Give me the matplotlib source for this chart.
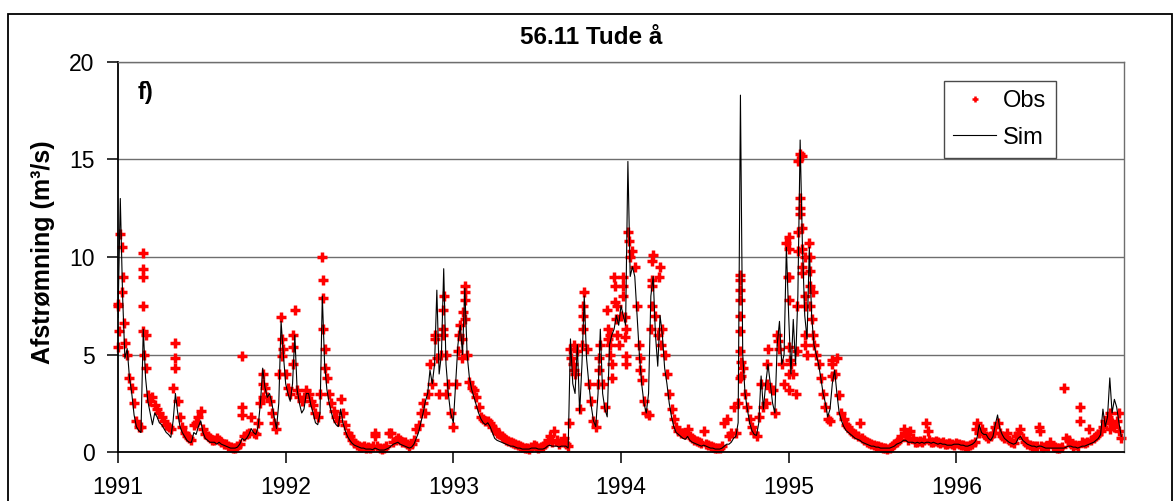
import numpy as np
import matplotlib
matplotlib.use("Agg")
import matplotlib.pyplot as plt
from matplotlib.patches import Rectangle
from matplotlib.lines import Line2D

plt.rcParams['font.family'] = ['Liberation Sans', 'DejaVu Sans']

# ---- data: 5-day samples from 1 January of each year ----
years = [1991, 1992, 1993, 1994, 1995, 1996]

sim_1991 = [6.9, 13.0, 8.0, 4.8, 5.3, 3.8, 3.0, 1.9, 1.3, 1.1, 1.0, 6.3, 3.8, 2.6, 2.0, 1.4,
            2.0, 1.8, 1.5, 1.4, 1.2, 1.0, 0.9, 0.75, 1.6, 3.0, 2.0, 1.3, 1.0, 0.8, 0.6, 0.5,
            0.5, 1.0, 0.9, 1.3, 1.6, 1.0, 0.7, 0.6, 0.5, 0.5, 0.5, 0.4, 0.5, 0.4, 0.35, 0.3,
            0.25, 0.2, 0.2, 0.2, 0.25, 0.4, 0.7, 0.6, 0.7, 0.9, 1.2, 1.0, 0.9, 1.3, 2.5, 4.3,
            3.3, 2.8, 3.0, 2.5, 1.8, 1.2, 2.5, 6.7, 5.0]
obs_1991 = [7.5, 11.2, 9.0, 5.6, 5.0, 3.8, 3.3, 2.5, 1.6, 1.3, 1.3, 10.2, 4.3, 2.9, 2.6, 2.8,
            2.4, 2.2, 2.0, 1.8, 1.6, 1.4, 1.3, 1.2, 3.3, 5.6, 2.6, 1.8, 1.3, 1.0, 0.8, 0.7,
            0.6, 1.4, 1.5, 1.8, 2.1, 1.2, 0.9, 0.8, 0.7, 0.6, 0.6, 0.7, 0.6, 0.5, 0.4, 0.4,
            0.3, 0.25, 0.2, 0.2, 0.3, 0.4, 4.9, 0.8, 0.9, 1.0, 1.8, 1.0, 0.9, 1.5, 2.5, 4.0,
            3.3, 2.8, 2.6, 2.0, 1.5, 1.2, 4.0, 6.9, 5.3]

sim_1992 = [3.5, 3.0, 2.6, 3.5, 6.0, 3.2, 2.5, 2.0, 2.2, 3.0, 3.0, 2.4, 2.0, 1.5, 1.4, 2.0,
            8.0, 4.5, 3.2, 2.5, 2.0, 1.6, 1.4, 1.3, 2.2, 1.5, 1.1, 0.8, 0.6, 0.45, 0.35, 0.3,
            0.25, 0.2, 0.2, 0.15, 0.15, 0.15, 0.12, 0.2, 0.15, 0.1, 0.1, 0.1, 0.15, 0.2, 0.3,
            0.4, 0.45, 0.5, 0.4, 0.35, 0.3, 0.25, 0.2, 0.25, 0.4, 0.7, 1.0, 1.5, 2.0, 2.6,
            3.0, 4.2, 3.5, 4.5, 8.3, 4.0, 5.0, 9.4, 4.5, 3.0, 2.0]
obs_1992 = [4.0, 3.3, 3.0, 4.5, 7.3, 3.2, 2.8, 2.6, 2.8, 3.2, 3.0, 2.6, 2.4, 2.0, 1.8, 3.0,
            10.0, 5.3, 3.8, 3.0, 2.5, 2.1, 1.8, 1.6, 2.7, 2.0, 1.4, 1.0, 0.8, 0.6, 0.45, 0.35,
            0.3, 0.25, 0.3, 0.2, 0.25, 0.2, 0.3, 1.0, 0.3, 0.2, 0.15, 0.2, 0.3, 1.0, 1.0, 0.5,
            0.6, 0.7, 0.6, 0.5, 0.5, 0.4, 0.3, 0.4, 0.6, 1.2, 1.4, 2.0, 2.5, 2.0, 3.0, 4.5,
            3.5, 6.0, 4.8, 3.0, 5.0, 8.0, 5.0, 3.5, 2.0]

sim_1993 = [1.5, 3.5, 5.5, 6.5, 5.0, 8.4, 5.0, 3.8, 3.2, 2.8, 2.4, 2.0, 1.7, 1.5, 1.4, 1.5,
            1.3, 1.0, 0.7, 0.6, 0.55, 0.5, 0.45, 0.4, 0.35, 0.3, 0.3, 0.25, 0.2, 0.2, 0.15,
            0.15, 0.15, 0.15, 0.2, 0.2, 0.2, 0.15, 0.15, 0.15, 0.2, 0.3, 0.35, 0.3, 0.3, 0.3,
            0.25, 0.3, 0.3, 0.3, 0.2, 5.8, 3.5, 3.0, 5.5, 2.0, 4.5, 8.0, 4.8, 3.5, 2.4, 1.6,
            1.3, 3.0, 6.3, 3.0, 2.2, 1.8, 5.5, 6.0, 6.3, 7.0, 6.5]
obs_1993 = [1.3, 3.5, 5.2, 6.5, 7.2, 8.5, 5.0, 3.6, 3.3, 3.2, 2.8, 2.3, 1.8, 1.7, 1.6, 1.6,
            1.5, 1.3, 1.2, 1.0, 0.9, 0.8, 0.7, 0.6, 0.55, 0.5, 0.45, 0.4, 0.35, 0.3, 0.25, 0.2,
            0.2, 0.15, 0.25, 0.35, 0.3, 0.2, 0.25, 0.3, 0.4, 0.6, 0.8, 0.5, 1.1, 0.6, 0.4, 0.5,
            0.7, 0.4, 0.3, 5.3, 4.5, 4.0, 5.2, 2.2, 5.5, 8.2, 5.3, 3.5, 2.6, 1.6, 1.3, 3.5,
            5.5, 3.5, 2.3, 7.3, 5.5, 4.5, 9.0, 6.8, 5.5]

sim_1994 = [7.5, 7.0, 6.5, 14.9, 9.0, 9.5, 9.0, 7.0, 5.0, 3.5, 2.5, 2.0, 3.0, 8.0, 9.0, 6.0,
            4.4, 7.0, 6.0, 4.3, 3.5, 2.5, 1.8, 1.3, 1.0, 0.9, 0.8, 0.7, 0.65, 0.8, 0.6, 0.5,
            0.45, 0.4, 0.35, 0.3, 0.35, 0.3, 0.25, 0.2, 0.2, 0.15, 0.15, 0.15, 0.2, 0.3, 0.4,
            0.4, 0.5, 0.7, 0.8, 1.5, 18.3, 5.0, 3.0, 2.2, 1.5, 1.1, 0.9, 0.85, 1.5, 3.9, 2.2,
            3.5, 4.5, 3.5, 2.5, 2.0, 5.5, 6.7, 4.5, 5.0, 10.5]
obs_1994 = [7.0, 8.5, 6.3, 11.3, 10.0, 10.3, 9.5, 7.5, 5.5, 3.7, 2.6, 2.0, 1.9, 6.3, 10.1, 7.0,
            6.0, 9.5, 6.3, 5.0, 4.0, 3.0, 2.2, 1.7, 1.3, 1.1, 1.0, 0.95, 0.9, 1.2, 0.8, 0.7,
            0.6, 0.55, 0.5, 0.45, 1.1, 0.4, 0.35, 0.3, 0.25, 0.2, 0.2, 0.2, 0.3, 1.5, 1.7, 0.8,
            1.0, 2.3, 1.0, 2.5, 9.1, 4.3, 3.0, 2.3, 1.7, 1.3, 1.0, 0.8, 1.8, 3.5, 2.3, 2.5,
            5.3, 3.3, 3.2, 2.0, 6.0, 5.3, 4.5, 3.5, 10.7]

sim_1995 = [7.0, 4.0, 6.8, 4.5, 8.0, 16.0, 10.5, 7.0, 5.8, 10.5, 7.0, 5.5, 5.0, 4.5, 3.8, 3.0,
            2.5, 1.8, 2.2, 3.5, 4.2, 3.0, 2.0, 1.6, 1.3, 1.1, 1.0, 0.9, 0.8, 0.7, 0.65, 0.6,
            0.5, 0.45, 0.4, 0.35, 0.3, 0.3, 0.25, 0.25, 0.2, 0.2, 0.2, 0.2, 0.2, 0.25, 0.3,
            0.4, 0.45, 0.5, 0.6, 0.6, 0.5, 0.5, 0.5, 0.45, 0.5, 0.45, 0.5, 0.45, 0.5, 0.5,
            0.45, 0.5, 0.45, 0.4, 0.45, 0.4, 0.4, 0.35, 0.35, 0.35, 0.4]
obs_1995 = [11.0, 4.5, 4.0, 3.0, 10.3, 15.3, 15.2, 10.0, 5.0, 10.7, 6.8, 5.5, 5.0, 4.5, 3.8,
            3.0, 2.3, 1.7, 1.6, 4.7, 4.0, 4.8, 2.9, 2.0, 1.7, 1.4, 1.3, 1.1, 1.0, 0.9, 0.8,
            1.5, 0.7, 0.6, 0.5, 0.45, 0.4, 0.35, 0.3, 0.3, 0.25, 0.2, 0.2, 0.15, 0.2, 0.3, 0.4,
            0.5, 0.6, 0.8, 1.2, 0.8, 0.6, 1.1, 0.7, 0.5, 0.5, 0.55, 0.5, 0.6, 1.5, 0.6, 0.5,
            0.5, 0.55, 0.5, 0.45, 0.5, 0.4, 0.4, 0.45, 0.4, 0.35]

sim_1996 = [0.4, 0.4, 0.35, 0.35, 0.3, 0.3, 0.35, 0.4, 0.5, 0.7, 1.4, 1.0, 0.9, 0.9, 0.7, 0.6,
            0.8, 1.4, 1.9, 1.2, 0.9, 0.7, 0.6, 0.5, 0.45, 0.4, 0.45, 0.7, 0.8, 0.6, 0.5, 0.4,
            0.35, 0.3, 0.3, 0.25, 0.3, 0.3, 0.25, 0.2, 0.2, 0.2, 0.2, 0.2, 0.2, 0.2, 0.2, 0.2,
            0.25, 0.3, 0.3, 0.25, 0.25, 0.2, 0.25, 0.3, 0.3, 0.35, 0.4, 0.45, 0.5, 0.6, 0.7,
            0.9, 2.2, 1.3, 1.8, 3.8, 2.0, 2.7, 2.3, 1.5, 0.8]
obs_1996 = [0.45, 0.4, 0.35, 0.35, 0.3, 0.3, 0.35, 0.4, 0.5, 1.5, 1.0, 1.2, 0.9, 0.8, 0.7, 0.8,
            1.0, 1.3, 1.5, 1.0, 0.8, 0.7, 1.0, 0.6, 0.5, 0.45, 0.8, 1.0, 1.2, 0.7, 0.5, 0.4,
            0.35, 0.3, 0.3, 0.3, 1.3, 0.3, 0.25, 0.3, 0.3, 0.5, 0.3, 0.25, 0.2, 0.2, 0.25, 3.3,
            0.7, 0.6, 0.4, 0.3, 0.35, 0.3, 2.3, 0.5, 0.45, 0.5, 1.2, 0.6, 0.7, 0.8, 0.9, 1.1,
            1.3, 1.6, 1.8, 2.0, 1.5, 1.3, 1.6, 1.1, 0.7]

# additional daily observations during floods (year, day of year, value)
extra_year = [1991] * 20 + [1992] * 12 + [1993] * 24 + [1994] * 28 + [1995] * 32 + [1996] * 6
extra_day = [1, 1, 8, 8, 13, 55, 55, 55, 55, 57, 124, 124, 269, 269, 316, 316, 357, 357, 3, 60,
             17, 17, 82, 82, 82, 85, 196, 327, 343, 343, 343, 351,
             12, 19, 19, 25, 25, 25, 252, 257, 263, 263, 282, 282, 282, 317, 317, 336, 336, 342,
             342, 346, 352, 352, 357, 357,
             5, 5, 8, 8, 10, 10, 17, 41, 41, 67, 67, 68, 68, 83, 86, 258, 258, 258, 258, 258,
             258, 258, 262, 262, 318, 318, 342, 363,
             0, 0, 0, 0, 0, 0, 2, 18, 18, 20, 20, 24, 24, 24, 28, 28, 30, 30, 35, 35, 35, 35,
             47, 47, 47, 47, 52, 52, 94, 94, 253, 303,
             44, 182, 271, 336, 336, 354]
extra_val = [5.4, 7.6, 10.5, 8.2, 6.6, 9.4, 9.0, 7.5, 6.2, 5.0, 4.8, 4.3, 2.3, 1.9, 2.8, 3.5,
             5.8, 4.9, 6.2, 6.0,
             6.0, 5.4, 8.8, 7.9, 6.3, 4.3, 0.8, 5.8, 7.3, 6.3, 6.0, 3.0,
             6.0, 5.8, 4.8, 8.2, 7.8, 6.8, 1.5, 4.8, 5.5, 4.2, 7.5, 7.0, 6.3, 4.8, 4.2, 6.3,
             5.8, 6.0, 5.0, 3.8, 8.5, 7.7, 7.5, 6.0,
             9.0, 8.0, 6.9, 5.9, 4.9, 4.5, 10.8, 4.8, 4.2, 9.8, 8.8, 8.5, 7.5, 9.0, 5.5, 8.8,
             8.3, 7.8, 7.0, 6.2, 5.2, 3.8, 4.6, 3.9, 4.5, 3.5, 5.7, 9.0,
             10.4, 9.0, 7.8, 5.4, 4.0, 3.2, 4.7, 5.2, 7.5, 11.3, 14.9, 13.0, 12.5, 12.2, 11.5,
             9.5, 10.4, 9.2, 8.0, 7.5, 6.0, 5.5, 10.0, 9.3, 8.5, 7.5, 8.2, 6.0, 4.5, 3.9, 1.0,
             1.1,
             1.2, 1.1, 1.6, 1.5, 1.2, 2.0]

sim_years = [sim_1991, sim_1992, sim_1993, sim_1994, sim_1995, sim_1996]
obs_years = [obs_1991, obs_1992, obs_1993, obs_1994, obs_1995, obs_1996]
year_ticks = [1991, 1992, 1993, 1994, 1995, 1996]
y_ticks = [0, 5, 10, 15, 20]


def ndays(y):
    return 366 if (y % 4 == 0) else 365


def to_t(y, d):
    return y + d / ndays(y)


t_sim, v_sim, t_obs, v_obs = [], [], [], []
for y, s, o in zip(years, sim_years, obs_years):
    t_sim += [to_t(y, 5 * k) for k in range(len(s))]
    v_sim += s
    t_obs += [to_t(y, 5 * k) for k in range(len(o))]
    v_obs += o
t_obs += [to_t(y, d) for y, d in zip(extra_year, extra_day)]
v_obs += extra_val

# ---- figure ----
W, H = 1173, 501
fig = plt.figure(figsize=(W / 100, H / 100), dpi=100)
ax = fig.add_axes([118 / W, 49 / H, 1006 / W, 390 / H])

grid_col = '#6e6e6e'
ax.plot(t_obs, v_obs, ls='none', marker='+', ms=7.5, mew=2.5,
        color='#ff0000', zorder=2, clip_on=False)
ax.plot(t_sim, v_sim, color='black', lw=0.8, zorder=3)

ax.set_xlim(1991, 1997)
ax.set_ylim(0, 20)
ax.set_xticks(year_ticks)
ax.set_xticklabels([str(y) for y in year_ticks])
ax.set_yticks(y_ticks)
ax.set_yticklabels([str(v) for v in y_ticks])
ax.yaxis.grid(True, color=grid_col, lw=1.0)
ax.set_axisbelow(True)
ax.tick_params(axis='y', direction='out', length=8, width=1.1, labelsize=16.5, pad=9)
ax.tick_params(axis='x', direction='out', length=8, width=1.1, labelsize=16.5, pad=9)
for s in ['left', 'bottom']:
    ax.spines[s].set_color('black')
    ax.spines[s].set_linewidth(1.3)
for s in ['top', 'right']:
    ax.spines[s].set_color(grid_col)
    ax.spines[s].set_linewidth(1.0)

fig.text(591 / W, 1 - 38 / H, '56.11 Tude å', ha='center', va='center',
         fontsize=17.5, fontweight='bold')
fig.text(43 / W, 1 - 252 / H, 'Afstrømning (m³/s)', rotation=90, ha='center',
         va='center', fontsize=18, fontweight='bold')
ax.text(0.02, 0.95, 'f)', transform=ax.transAxes, ha='left', va='top',
        fontsize=17, fontweight='bold')

h_obs = Line2D([], [], ls='none', marker='+', ms=4.5, mew=1.8, color='#ff0000')
h_sim = Line2D([], [], color='black', lw=0.8)
leg = ax.legend([h_obs, h_sim], ['Obs', 'Sim'], loc='upper left',
                bbox_to_anchor=((944 - 118) / 1006, (452 - 81) / 390),
                fontsize=17, frameon=True, fancybox=False, framealpha=1,
                edgecolor='#4a4a4a', handlelength=1.8, handletextpad=0.3,
                labelspacing=0.6, borderpad=0.4, borderaxespad=0)
leg.get_frame().set_linewidth(1.0)

fig.patches.append(Rectangle((8 / W, -0.1), (1172 - 8) / W, (H - 14) / H + 0.1,
                             transform=fig.transFigure, fill=False,
                             edgecolor='black', lw=1.3))

fig.savefig('out.png', dpi=100)
